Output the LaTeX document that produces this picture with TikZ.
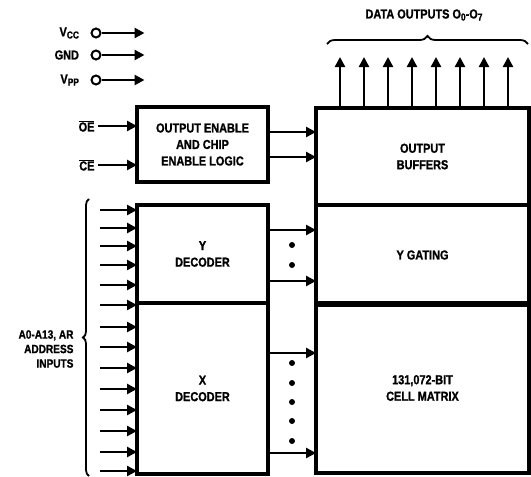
\documentclass[tikz,border=0pt]{standalone}
\usepackage{fontspec}
\setmainfont{Liberation Sans}[FakeStretch=0.84,FakeBold=1.2]
\usepackage{tikz}
\usetikzlibrary{arrows.meta,positioning,decorations.pathreplacing}

\tikzset{
	blk/.style={draw, line width=3.2pt, inner sep=0pt, outer sep=0pt, align=center, font=\bfseries\fontsize{13}{16.5}\selectfont},
	arr/.style={line width=2.8pt, -{Triangle[length=10pt,width=10pt]}},
	lbl/.style={font=\bfseries\fontsize{13}{14}\selectfont},
	pinc/.style={circle, draw, line width=2pt, minimum size=9pt, inner sep=0pt},
}
\newcommand{\lowsub}[1]{\raisebox{-0.3ex}{\fontsize{10}{10}\selectfont #1}}

\begin{document}
\begin{tikzpicture}[x=1pt,y=-1pt]
				\useasboundingbox (0,0) rectangle (531,477);
				\node[blk, minimum width=131pt, minimum height=75pt] (logic) at (202.5,144.5) {OUTPUT ENABLE\\AND CHIP\\ENABLE LOGIC};
				\node[blk, minimum width=131pt, minimum height=98pt] (ydec) at (202.5,254) {Y\\DECODER};
				\node[blk, minimum width=131pt, minimum height=171pt] (xdec) at (202.5,388.5) {X\\DECODER};
				\node[blk, minimum width=213pt, minimum height=97pt] (buf) at (422.5,156.5) {OUTPUT\\BUFFERS};
				\node[blk, minimum width=213pt, minimum height=100pt] (gate) at (422.5,255) {Y GATING};
				\node[blk, minimum width=213pt, minimum height=170pt] (cell) at (422.5,388) {131,072-BIT\\CELL MATRIX};
				\node[pinc] (vcc) at (96,33) {};
				\node[pinc] (gnd) at (96,55) {};
				\node[pinc] (vpp) at (96,80) {};
				\node[lbl, left=8pt of vcc] (vcclbl) {V\lowsub{CC}};
				\node[lbl, left=8pt of gnd] (gndlbl) {GND};
				\node[lbl, left=8pt of vpp] (vpplbl) {V\lowsub{PP}};
				\draw[arr] (vcc.east) -- +(43,0);
				\draw[arr] (gnd.east) -- +(43,0);
				\draw[arr] (vpp.east) -- +(43,0);
				\node[lbl, anchor=east] (oe) at (98,126) {$\overline{\mbox{OE}}$};
				\node[lbl, anchor=east] (ce) at (98,165) {$\overline{\mbox{CE}}$};
				\draw[arr] (oe.east) -- (logic.west |- oe.east);
				\draw[arr] (ce.east) -- (logic.west |- ce.east);
				\draw[arr] (logic.east |- 0,132) -- (buf.west |- 0,132);
				\draw[arr] (logic.east |- 0,157) -- (buf.west |- 0,157);
				\foreach \x in {340,364,...,508}
					\draw[arr] (buf.north -| \x,0) -- (\x,57);
				\draw[line width=1.8pt, decorate, decoration={brace, amplitude=8pt}] (327,44) -- (528,44);
				\node[lbl] (data) at (424,15) {DATA OUTPUTS O\lowsub{0}-O\lowsub{7}};
				\foreach \y in {210,228,246,265,285,305,327,347,368,389,410,431,452,471}
					\draw[arr] (100,\y) -- (xdec.west |- 0,\y);
				\draw[line width=1.8pt, decorate, decoration={brace, amplitude=6pt}] (89,476) -- (89,199);
				\node[lbl, font=\bfseries\fontsize{12}{14.5}\selectfont, align=right, anchor=east] (addr) at (77,349) {A0-A13, AR\\ADDRESS\\INPUTS};
				\draw[arr] (ydec.east |- 0,230) -- (gate.west |- 0,230);
				\draw[arr] (ydec.east |- 0,281) -- (gate.west |- 0,281);
				\draw[arr] (xdec.east |- 0,353) -- (cell.west |- 0,353);
				\draw[arr] (xdec.east |- 0,453) -- (cell.west |- 0,453);
				\foreach \y in {245,265,363,383,402,421,441}
					\fill (292,\y) circle (3pt);
			\end{tikzpicture}
\end{document}
